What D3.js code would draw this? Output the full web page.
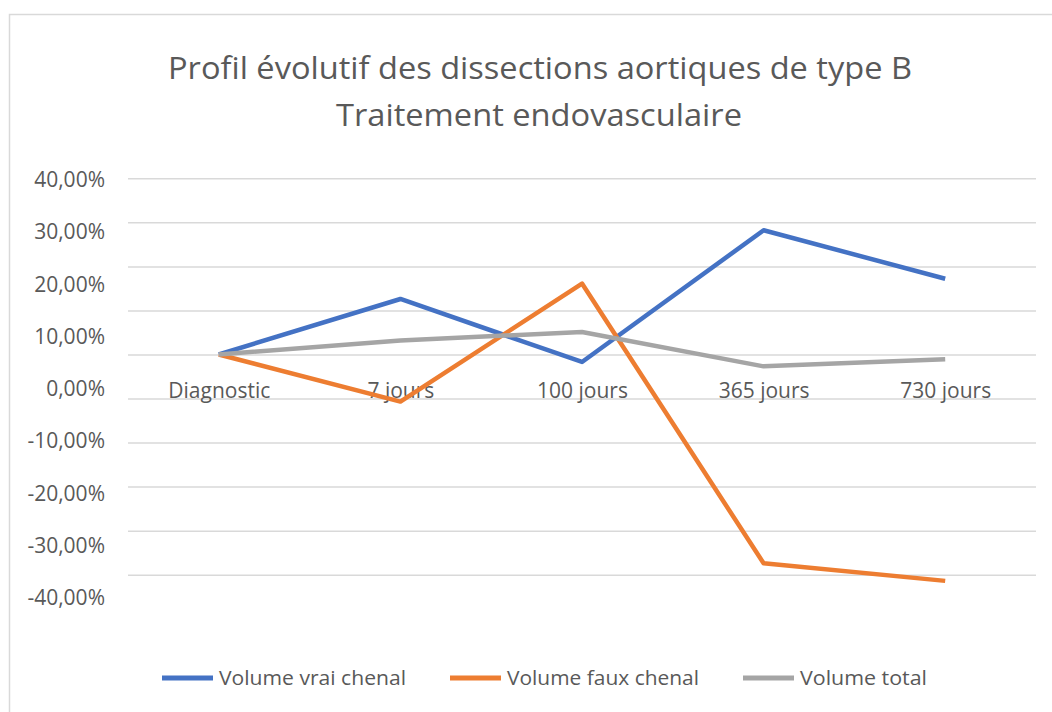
<!DOCTYPE html>
<html>
<head>
<meta charset="utf-8">
<script src="https://cdn.jsdelivr.net/npm/d3@7"></script>
<style>
  body { margin: 0; background: #fff; }
  svg text { font-family: "Open Sans", sans-serif; fill: #595959; }
</style>
</head>
<body>
<svg width="1052" height="712"></svg>
<script>
// categories and series (percent change since diagnostic)
const categories = ['Diagnostic', '7 jours', '100 jours', '365 jours', '730 jours'];
const vraiChenal = [0, 12.6, -1.7, 28.2, 17.2];
const fauxChenal = [0, -10.7, 16.1, -47.4, -51.4];
const volumeTotal = [0, 3.2, 5.1, -2.7, -1.1];
const gridTicks = [40, 30, 20, 10, 0, -10, -20, -30, -40, -50];
const labelTicks = [40, 30, 20, 10, 0, -10, -20, -30, -40];
const seriesNames = ['Volume vrai chenal', 'Volume faux chenal', 'Volume total'];
const colors = ['#4472C4', '#ED7D31', '#A5A5A5'];

const svg = d3.select('svg');
const left = 128, right = 1036;

// frame (top and left edge only, like the capture)
svg.append('path')
    .attr('d', 'M9.5,712 V14.5 H1052')
    .attr('fill', 'none')
    .attr('stroke', '#d9d9d9')
    .attr('stroke-width', 1.5);

// title
const title = svg.append('g');
title.append('text')
    .attr('x', 540).attr('y', 79)
    .attr('text-anchor', 'middle')
    .attr('font-size', 31)
    .attr('textLength', 744).attr('lengthAdjust', 'spacingAndGlyphs')
    .text('Profil évolutif des dissections aortiques de type B');
title.append('text')
    .attr('x', 539).attr('y', 126)
    .attr('text-anchor', 'middle')
    .attr('font-size', 31)
    .attr('textLength', 406).attr('lengthAdjust', 'spacingAndGlyphs')
    .text('Traitement endovasculaire');

// scales
const x = d3.scalePoint().domain(categories).range([left, right]).padding(0.5);
const y = d3.scaleLinear().domain([-50, 40]).range([574.7, 178.3]);
// tick labels sit on their own spacing in the reference
const yLab = d3.scaleLinear().domain([-40, 40]).range([598, 180]);

// gridlines
svg.append('g')
    .attr('transform', `translate(${left},0)`)
    .call(d3.axisLeft(y).tickValues(gridTicks).tickSize(-(right - left)).tickFormat(''))
    .call(g => g.select('.domain').remove())
    .call(g => g.selectAll('.tick line').attr('stroke', '#d9d9d9').attr('stroke-width', 1.5));

// y tick labels
const fmt = v => v.toFixed(2).replace('.', ',') + '%';
svg.append('g')
    .attr('transform', 'translate(105,0)')
    .call(d3.axisLeft(yLab).tickValues(labelTicks).tickSize(0).tickPadding(0).tickFormat(fmt))
    .call(g => g.select('.domain').remove())
    .call(g => g.selectAll('text').attr('font-size', 21).attr('font-family', '"Open Sans", sans-serif').attr('fill', '#595959'));

// category labels
svg.append('g')
    .attr('transform', 'translate(0,383)')
    .call(d3.axisBottom(x).tickSize(0).tickPadding(0))
    .call(g => g.select('.domain').remove())
    .call(g => g.selectAll('text').attr('font-size', 21).attr('font-family', '"Open Sans", sans-serif').attr('fill', '#595959'));

// lines
const line = d3.line()
    .x((d, i) => x(categories[i]))
    .y(d => y(d));

[vraiChenal, fauxChenal, volumeTotal].forEach((s, i) => {
    svg.append('path')
        .datum(s)
        .attr('d', line)
        .attr('fill', 'none')
        .attr('stroke', colors[i])
        .attr('stroke-width', 4.5)
        .attr('stroke-linejoin', 'round');
});

// legend
const legendX = [162, 450, 743];
const legendW = [187, 192, 127];
const legend = svg.append('g').selectAll('g')
    .data(seriesNames)
    .join('g')
    .attr('transform', (d, i) => `translate(${legendX[i]},678)`);
legend.append('line')
    .attr('x1', 0).attr('x2', 51)
    .attr('stroke', (d, i) => colors[i])
    .attr('stroke-width', 5);
legend.append('text')
    .attr('x', 57).attr('y', 7)
    .attr('font-size', 20)
    .attr('textLength', (d, i) => legendW[i]).attr('lengthAdjust', 'spacingAndGlyphs')
    .text(d => d);
</script>
</body>
</html>
